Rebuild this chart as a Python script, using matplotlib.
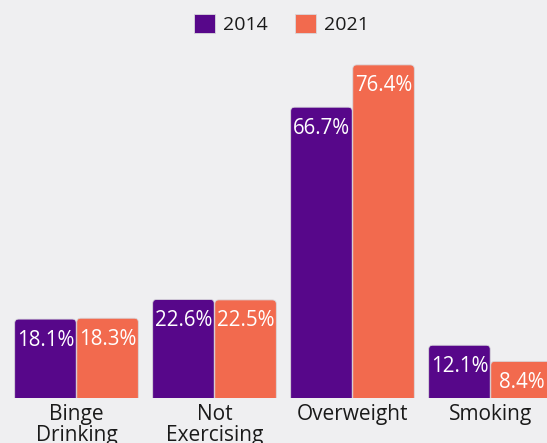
import matplotlib.pyplot as plt
from matplotlib.patches import FancyBboxPatch, Patch
import numpy as np

plt.rcParams['font.family'] = ['Open Sans', 'DejaVu Sans']

categories = ["Binge\nDrinking", "Not\nExercising", "Overweight", "Smoking"]
years = ["2014", "2021"]
vals_2014 = [18.1, 22.6, 66.7, 12.1]
vals_2021 = [18.3, 22.5, 76.4, 8.4]

colors = ["#57078A", "#F26A4E"]
bg = "#EFEFF1"

fig = plt.figure(figsize=(5.47, 4.43), dpi=100, facecolor=bg)
# axes bottom sits on the bar baseline so the rounded bottom corners get clipped
ax = fig.add_axes([0, 45 / 443, 1, 398 / 443])
ax.set_facecolor(bg)

x = np.arange(len(categories))
w = 0.45
ymax = 398 / 4.36
ax.set_xlim(-76.5 / 138, (547 - 76.5) / 138)
ax.set_ylim(0, ymax)

# px -> data scale for round corners
px_x = 1 / 138
px_y = ymax / 398
r = 4 * px_x

for vals, off, col in [(vals_2014, -w / 2, colors[0]), (vals_2021, w / 2, colors[1])]:
    bars = ax.bar(x + off, vals, w - 0.004, color=col)
    for b, v in zip(bars, vals):
        b.set_visible(False)
        fb = FancyBboxPatch((b.get_x(), -5), b.get_width(), v + 5,
                            boxstyle=f"round,pad=0,rounding_size={r}",
                            mutation_aspect=px_y / px_x,
                            facecolor=col, edgecolor="#D8D8DC", linewidth=0.6)
        ax.add_patch(fb)
        ax.annotate(f"{v}%", (b.get_x() + b.get_width() / 2, v),
                    xytext=(0, -7.5), textcoords="offset points",
                    ha="center", va="top", color="white", fontsize=14.8)

ax.set_xticks(x)
ax.set_xticklabels(categories, fontsize=15, color="#1A1A1A", linespacing=1.0)
ax.tick_params(axis="x", length=0, pad=4.5)
ax.set_yticks([])
for s in ax.spines.values():
    s.set_visible(False)

handles = [Patch(facecolor=c, edgecolor="#D8D8DC", linewidth=0.6) for c in colors]
fig.legend(handles, years, loc="center", bbox_to_anchor=(0.514, 0.946), ncol=2,
           frameon=False, fontsize=14, handlelength=1.1, handleheight=1.1,
           handletextpad=0.4, columnspacing=1.4, labelcolor="#1A1A1A")

fig.savefig("out.png", dpi=100, facecolor=bg)
